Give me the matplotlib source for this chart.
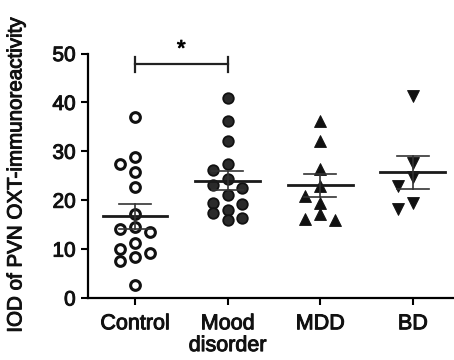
import matplotlib
matplotlib.use("Agg")
import matplotlib.pyplot as plt
import matplotlib.patheffects as pe
import numpy as np

plt.rcParams['font.family'] = ['Liberation Sans', 'DejaVu Sans']

# values
groups = ["Control", "Mood\ndisorder", "MDD", "BD"]
control = [37.1, 28.8, 27.5, 25.8, 22.7, 17.2, 14.6, 14.2, 13.6, 11.2, 10.0, 9.3, 8.3, 7.6, 2.6]
mood = [41.0, 36.3, 32.2, 27.5, 26.2, 24.4, 23.1, 22.4, 21.0, 19.5, 19.2, 18.1, 17.3, 16.4, 15.9]
mdd = [36.2, 32.2, 26.4, 23.0, 20.9, 19.4, 17.2, 16.2, 16.0]
bd = [41.3, 27.7, 24.8, 22.9, 19.4, 18.2]

# unit -> pixel scale, used only for the swarm layout
PX_X = 92.6
PX_Y = 4.89


def swarm(vals, diam=10.5, step=0.16):
    """greedy column layout, roughly like prism's scatter dot plot"""
    lanes = [0, -1, 1, -0.5, 0.5, -1.5, 1.5]
    placed = []
    offs = []
    for v in vals:
        for ln in lanes:
            dx = ln * step
            ok = True
            for (px, pv) in placed:
                d = np.hypot((dx - px) * PX_X, (v - pv) * PX_Y)
                if d < diam:
                    ok = False
                    break
            if ok:
                break
        placed.append((dx, v))
        offs.append(dx)
    return np.array(offs)


heavy = [pe.withStroke(linewidth=0.7, foreground='#111111')]

fig = plt.figure(figsize=(4.54, 3.6), dpi=100)
ax = fig.add_axes([0.1945, 0.1722, 0.8055, 0.679])

data = [control, mood, mdd, bd]
styles = [
    dict(marker='o', mfc='white', mec='#111111', ms=7.0, mew=2.2),
    dict(marker='o', mfc='#2a2a2a', mec='#111111', ms=7.6, mew=1.3),
    dict(marker='^', mfc='#111111', mec='#111111', ms=8.0, mew=0.6),
    dict(marker='v', mfc='#111111', mec='#111111', ms=8.0, mew=0.6),
]

for i, (vals, st) in enumerate(zip(data, styles)):
    x0 = i + 1
    vals = np.array(vals)
    xs = x0 + swarm(vals)
    ax.plot(xs, vals, ls='none', zorder=3, **st)
    m = vals.mean()
    sem = vals.std(ddof=1) / np.sqrt(len(vals))
    ax.plot([x0 - 0.35, x0 + 0.35], [m, m], color='#1a1a1a', lw=2.0, zorder=4)
    ax.plot([x0 - 0.17, x0 + 0.17], [m + sem, m + sem], color='#333333', lw=1.2, zorder=4)
    ax.plot([x0 - 0.17, x0 + 0.17], [m - sem, m - sem], color='#333333', lw=1.2, zorder=4)
    ax.plot([x0, x0], [m - sem, m + sem], color='#333333', lw=1.2, zorder=4)

# significance bracket
ax.plot([1, 2], [47.9, 47.9], color='#222222', lw=1.6, clip_on=False)
ax.plot([1, 1], [46.3, 49.4], color='#222222', lw=1.6, clip_on=False)
ax.plot([2, 2], [46.3, 49.4], color='#222222', lw=1.6, clip_on=False)
ax.text(1.5, 48.6, '*', ha='center', va='bottom', fontsize=16, clip_on=False,
        path_effects=heavy)

ax.set_xlim(0.496, 4.445)
ax.set_ylim(0, 50)
ax.set_yticks([0, 10, 20, 30, 40, 50])
ax.set_xticks([1, 2, 3, 4])
ax.set_xticklabels(groups, fontsize=15.5, linespacing=1.05)
ax.tick_params(axis='y', labelsize=15, width=1.5, length=5, pad=4)
ax.tick_params(axis='x', width=1.5, length=5, pad=6)
for lab in ax.get_xticklabels() + ax.get_yticklabels():
    lab.set_path_effects(heavy)
    lab.set_color('#111111')
ax.spines['top'].set_visible(False)
ax.spines['right'].set_visible(False)
ax.spines['left'].set_linewidth(1.6)
ax.spines['bottom'].set_linewidth(1.6)
ax.set_ylabel('IOD of PVN OXT-immunoreactivity', fontsize=14.8, color='#111111',
              path_effects=heavy)
ax.yaxis.set_label_coords(-0.172, 0.5)

fig.savefig('out.png', dpi=100)
